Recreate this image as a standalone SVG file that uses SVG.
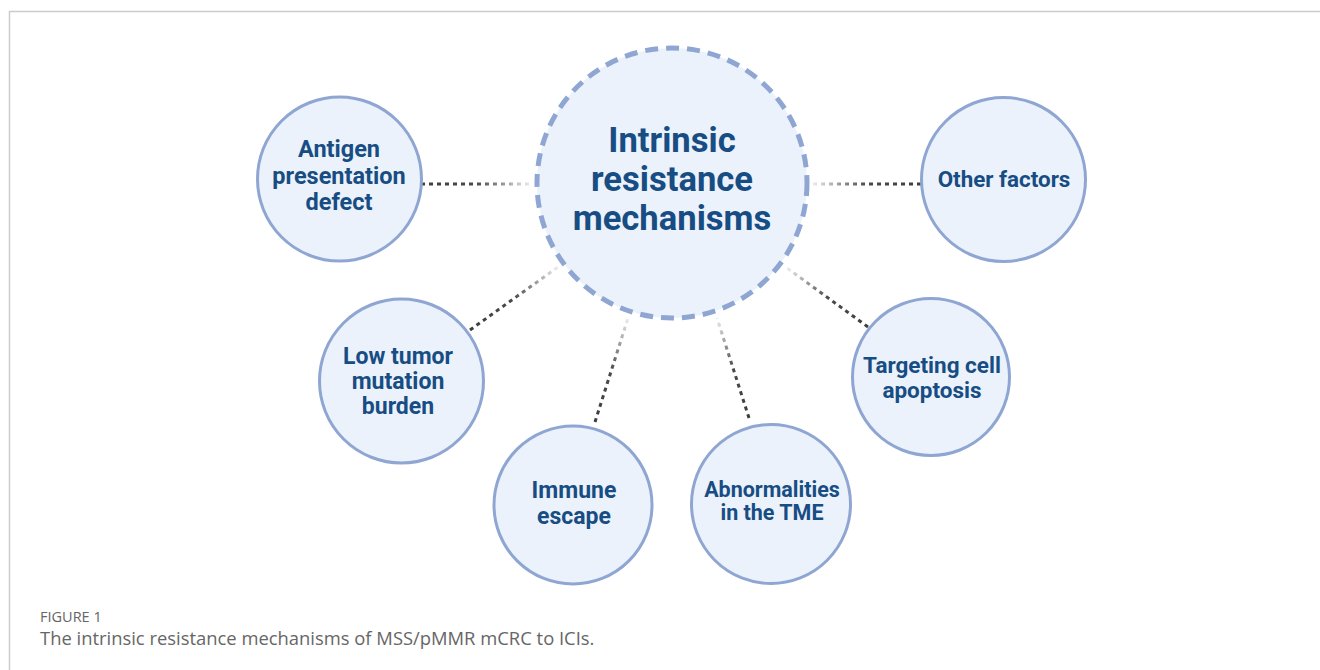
<svg xmlns="http://www.w3.org/2000/svg" width="1320" height="670" viewBox="0 0 1320 670">
  <style>
    .node { fill: #ebf2fb; stroke: #8fa6d3; stroke-width: 3; }
    .hub { fill: #ebf2fb; stroke: #8fa6d3; stroke-width: 5; stroke-dasharray: 13 8; }
    .lbl { font-family: Roboto, "Liberation Sans", sans-serif; font-weight: 700; fill: #174d83; text-anchor: middle; }
    .big { font-size: 34.6px; }
    .link { fill: none; stroke-width: 3; stroke-dasharray: 4 4; }
    .cap { font-family: "Open Sans", "Liberation Sans", sans-serif; fill: #666; }
  </style>
  <defs>
    <!-- each connector is dark at the outer node and fades toward the hub -->
    <linearGradient id="fadeH1" gradientUnits="userSpaceOnUse" x1="421" y1="184" x2="532" y2="184">
      <stop offset="0" stop-color="#3d3d3d"/><stop offset="0.5" stop-color="#4a4a4a"/><stop offset="1" stop-color="#eeeeee"/>
    </linearGradient>
    <linearGradient id="fadeH2" gradientUnits="userSpaceOnUse" x1="921" y1="184" x2="812" y2="184">
      <stop offset="0" stop-color="#3d3d3d"/><stop offset="0.5" stop-color="#4a4a4a"/><stop offset="1" stop-color="#eeeeee"/>
    </linearGradient>
    <linearGradient id="fadeL" gradientUnits="userSpaceOnUse" x1="470" y1="330" x2="558" y2="267">
      <stop offset="0" stop-color="#3d3d3d"/><stop offset="0.5" stop-color="#4a4a4a"/><stop offset="1" stop-color="#eeeeee"/>
    </linearGradient>
    <linearGradient id="fadeT" gradientUnits="userSpaceOnUse" x1="868" y1="327" x2="787" y2="268">
      <stop offset="0" stop-color="#3d3d3d"/><stop offset="0.5" stop-color="#4a4a4a"/><stop offset="1" stop-color="#eeeeee"/>
    </linearGradient>
    <linearGradient id="fadeI" gradientUnits="userSpaceOnUse" x1="595" y1="422" x2="628" y2="318">
      <stop offset="0" stop-color="#3d3d3d"/><stop offset="0.5" stop-color="#4a4a4a"/><stop offset="1" stop-color="#eeeeee"/>
    </linearGradient>
    <linearGradient id="fadeA" gradientUnits="userSpaceOnUse" x1="749" y1="418" x2="717" y2="318">
      <stop offset="0" stop-color="#3d3d3d"/><stop offset="0.5" stop-color="#4a4a4a"/><stop offset="1" stop-color="#eeeeee"/>
    </linearGradient>
  </defs>
  <rect width="1320" height="670" fill="#ffffff"/>
  <rect x="9.5" y="11.5" width="1400" height="700" fill="none" stroke="#cccccc" stroke-width="1.5"/>

  <g id="connectors">
    <line class="link" x1="421" y1="184" x2="532" y2="184" stroke="url(#fadeH1)"/>
    <line class="link" x1="921" y1="184" x2="812" y2="184" stroke="url(#fadeH2)"/>
    <line class="link" x1="470" y1="330" x2="558" y2="267" stroke="url(#fadeL)"/>
    <line class="link" x1="868" y1="327" x2="787" y2="268" stroke="url(#fadeT)"/>
    <line class="link" x1="595" y1="422" x2="628" y2="318" stroke="url(#fadeI)"/>
    <line class="link" x1="749" y1="418" x2="717" y2="318" stroke="url(#fadeA)"/>
  </g>

  <g id="hub">
    <circle class="hub" cx="672" cy="183" r="135"/>
    <text class="lbl big" x="672" y="152">Intrinsic</text>
    <text class="lbl big" x="672" y="191">resistance</text>
    <text class="lbl big" x="672" y="230">mechanisms</text>
  </g>

  <g id="antigen">
    <circle class="node" cx="339.5" cy="179" r="82"/>
    <g class="lbl" font-size="23.5">
      <text x="339" y="157">Antigen</text>
      <text x="339" y="184">presentation</text>
      <text x="339" y="210">defect</text>
    </g>
  </g>

  <g id="other">
    <circle class="node" cx="1003.5" cy="179.5" r="82"/>
    <text class="lbl" font-size="22.4" x="1004" y="187">Other factors</text>
  </g>

  <g id="tmb">
    <circle class="node" cx="401.5" cy="381" r="82"/>
    <g class="lbl" font-size="23">
      <text x="398" y="364">Low tumor</text>
      <text x="398" y="389">mutation</text>
      <text x="398" y="414">burden</text>
    </g>
  </g>

  <g id="apoptosis">
    <circle class="node" cx="931" cy="377" r="78.5"/>
    <g class="lbl" font-size="22.5">
      <text x="932" y="373">Targeting cell</text>
      <text x="932" y="398">apoptosis</text>
    </g>
  </g>

  <g id="immune">
    <circle class="node" cx="573" cy="505" r="79"/>
    <g class="lbl" font-size="23">
      <text x="574" y="498">Immune</text>
      <text x="574" y="524">escape</text>
    </g>
  </g>

  <g id="tme">
    <circle class="node" cx="771" cy="504" r="79.5"/>
    <g class="lbl" font-size="21.5">
      <text x="772" y="497">Abnormalities</text>
      <text x="772" y="520">in the TME</text>
    </g>
  </g>

  <text class="cap" x="40" y="622" font-size="14.5" fill="#555">FIGURE 1</text>
  <text class="cap" x="40" y="645" font-size="18.4">The intrinsic resistance mechanisms of MSS/pMMR mCRC to ICIs.</text>
</svg>
